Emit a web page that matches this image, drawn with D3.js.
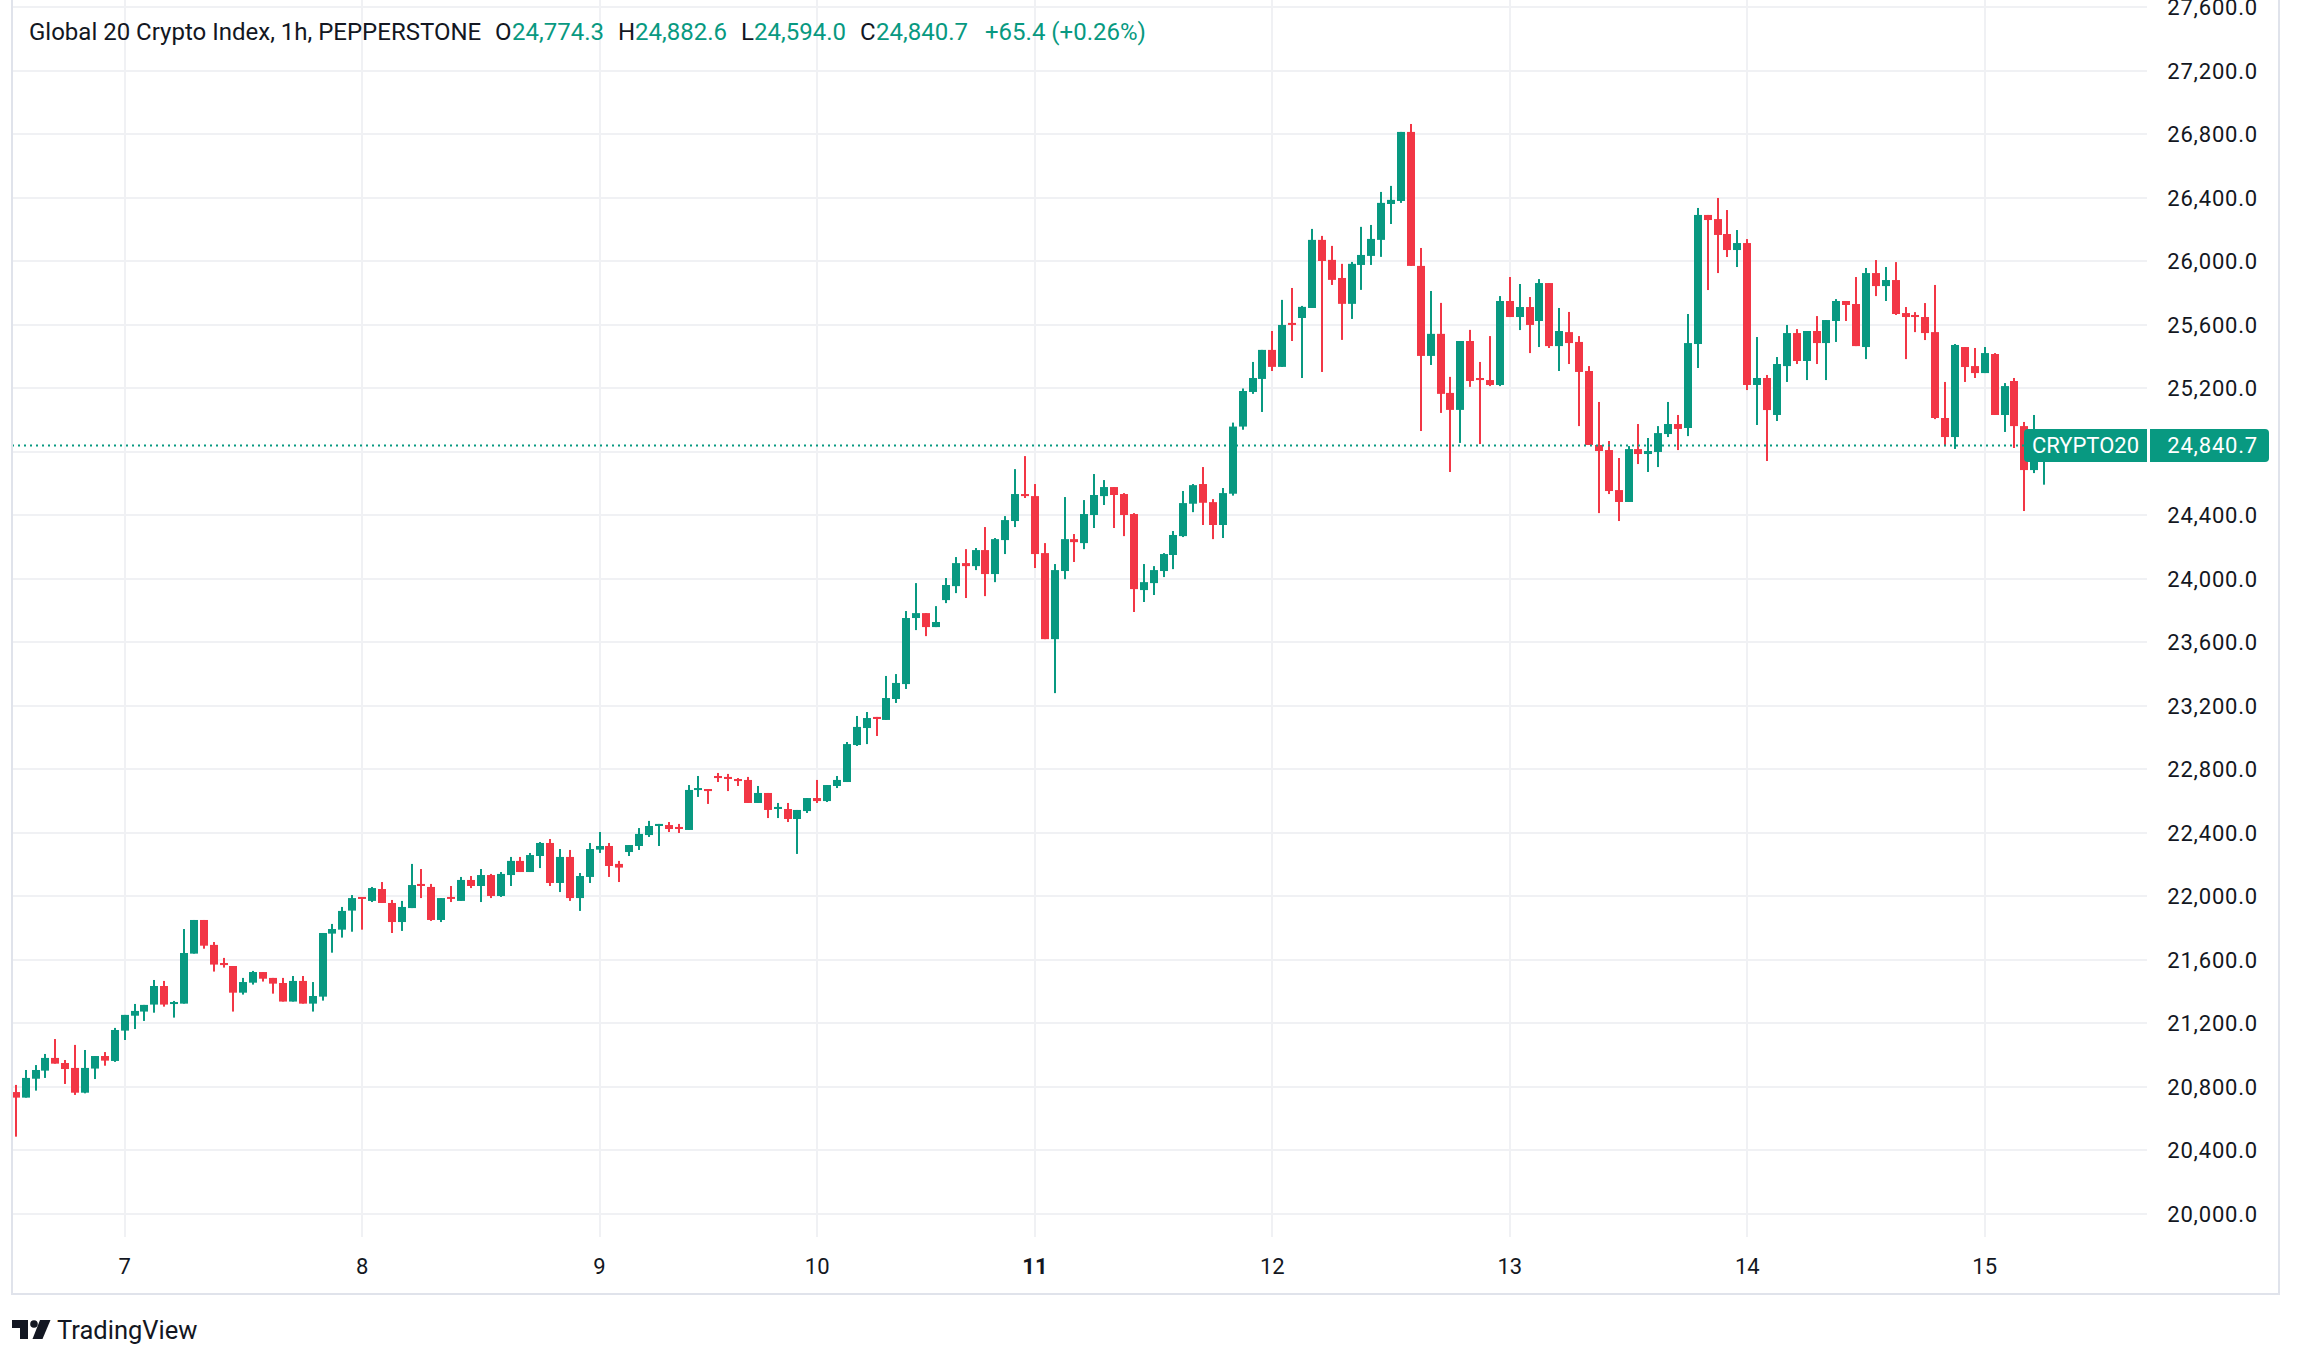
<!DOCTYPE html>
<html><head><meta charset="utf-8">
<script src="https://cdn.jsdelivr.net/npm/d3@7"></script>
<style>body{margin:0;background:#fff;} svg{display:block}</style>
</head><body>
<svg id="c" width="2300" height="1364"></svg>
<script>
// ---- DATA (hourly bars, Global 20 Crypto Index, PEPPERSTONE) ----
const openP = [20768,20733,20852,20903,20983,20951,20920,20764,20916,20995,20964,21155,21249,21275,21319,21436,21325,21325,21640,21852,
21695,21581,21562,21394,21457,21524,21487,21455,21338,21468,21325,21369,21766,21791,21911,21997,21972,22047,21959,21839,
21927,22079,22060,21852,21997,21972,22104,22066,22135,22003,22135,22224,22154,22255,22337,22085,22249,21990,22123,22295,
22318,22205,22280,22318,22387,22444,22450,22438,22419,22671,22677,22759,22753,22740,22734,22589,22652,22551,22551,22488,
22538,22620,22601,22696,22721,22954,23061,23131,23112,23244,23338,23754,23785,23697,23867,23955,24100,24081,24182,24031,
24245,24365,24535,24522,24163,23621,24050,24251,24226,24403,24522,24579,24535,24409,23930,23974,24050,24151,24270,24474,
24598,24484,24340,24537,24960,25178,25260,25443,25336,25613,25644,25707,26136,26010,25896,25733,25978,26035,26136,26362,
26381,26816,25972,25405,25544,25172,25065,25499,25266,25253,25222,25751,25650,25713,25625,25864,25467,25555,25493,25310,
24844,24812,24560,24485,24818,24787,24800,24913,24976,24951,25480,26293,26267,26173,26072,26116,25222,25266,25033,25341,
25549,25373,25562,25486,25625,25751,25732,25461,25927,25845,25883,25675,25663,25650,25555,25014,24894,25461,25341,25297,
25417,25033,25247,24963,24686,24774.3];
const highP = [20813,20907,20938,21008,21102,20970,21065,21033,20995,21020,21172,21254,21323,21317,21474,21468,21342,21795,21852,21852,
21713,21613,21562,21487,21531,21524,21487,21487,21499,21499,21461,21770,21827,21934,22009,21997,22060,22091,21978,21972,
22205,22173,22079,21990,22066,22123,22129,22173,22142,22154,22249,22249,22274,22343,22362,22299,22293,22148,22337,22406,
22337,22224,22324,22431,22476,22457,22469,22457,22702,22759,22677,22778,22772,22746,22753,22696,22652,22589,22589,22545,
22620,22734,22702,22759,22973,23137,23162,23131,23389,23401,23798,23974,23785,23829,24006,24138,24188,24195,24327,24258,
24396,24692,24774,24598,24226,24094,24516,24283,24497,24661,24623,24579,24541,24415,24094,24081,24163,24302,24554,24598,
24705,24503,24573,24985,25200,25367,25443,25562,25758,25833,25720,26205,26161,26098,25985,25997,26218,26230,26438,26476,
26816,26866,26085,25814,25739,25273,25499,25569,25367,25530,25782,25902,25858,25776,25889,25864,25707,25682,25530,25341,
25115,24869,24762,24837,24976,24888,24963,25115,25033,25669,26337,26293,26400,26324,26198,26141,25524,25285,25398,25600,
25574,25562,25656,25631,25763,25751,25902,25959,26009,25965,25996,25713,25681,25738,25852,25241,25480,25461,25455,25461,
25423,25234,25266,24989,25033,24882.6];
const lowP = [20487,20733,20777,20857,20947,20819,20750,20760,20850,20934,20958,21096,21165,21216,21268,21306,21237,21325,21640,21671,
21527,21552,21275,21382,21445,21464,21388,21338,21338,21325,21275,21344,21646,21741,21778,21791,21965,21959,21770,21783,
21927,21990,21846,21839,21965,21972,22053,21965,21990,21997,22066,22154,22154,22179,22066,22028,21972,21909,22085,22274,
22123,22091,22255,22293,22375,22318,22406,22400,22419,22627,22583,22721,22664,22696,22589,22589,22494,22494,22469,22268,
22526,22589,22595,22683,22721,22948,22960,23011,23112,23219,23307,23678,23640,23697,23848,23911,23880,24056,23892,23980,
24157,24327,24510,24069,23621,23281,23999,24107,24188,24321,24466,24321,24270,23792,23855,23899,24012,24062,24264,24421,
24340,24251,24258,24525,24940,25166,25052,25310,25336,25499,25266,25707,25304,25852,25506,25638,25821,25978,26029,26236,
26369,25972,24932,25348,25046,24674,24857,25210,24850,25215,25215,25650,25568,25423,25461,25455,25310,25354,24963,24844,
24415,24535,24365,24485,24724,24674,24705,24894,24812,24900,25329,25820,25927,26028,25965,25190,24970,24743,24995,25241,
25354,25253,25354,25253,25493,25625,25467,25385,25782,25751,25663,25385,25555,25505,25007,24837,24819,25241,25266,25297,
25033,24926,24825,24428,24667,24594.0];
const closeP = [20733,20857,20907,20983,20947,20913,20764,20920,20995,20966,21159,21254,21279,21317,21436,21319,21335,21644,21852,21690,
21571,21568,21394,21461,21524,21482,21451,21338,21468,21325,21373,21770,21795,21909,21990,21986,22053,21959,21839,21934,
22072,22066,21852,21990,21986,22104,22066,22135,22003,22142,22224,22154,22261,22337,22085,22249,21990,22129,22299,22318,
22192,22182,22324,22394,22444,22457,22425,22425,22671,22683,22664,22746,22740,22727,22589,22652,22545,22564,22488,22545,
22620,22601,22702,22734,22960,23068,23124,23118,23250,23345,23754,23785,23697,23729,23962,24100,24081,24182,24031,24251,
24371,24535,24522,24157,23621,24056,24251,24232,24409,24529,24579,24529,24403,23936,23980,24056,24157,24277,24478,24591,
24480,24340,24541,24960,25184,25266,25443,25336,25600,25600,25714,26136,26003,25884,25733,25985,26041,26142,26369,26388,
26816,25972,25405,25544,25166,25065,25499,25247,25253,25222,25751,25650,25713,25600,25864,25467,25562,25486,25304,24844,
24806,24554,24485,24818,24787,24806,24919,24976,24945,25486,26293,26261,26167,26072,26116,25222,25266,25064,25354,25549,
25373,25562,25486,25631,25751,25726,25467,25927,25845,25883,25669,25650,25650,25549,25014,24894,25474,25335,25297,25423,
25033,25215,24963,24686,24774.3,24840.7];
const dayTickIndex = [11,35,59,81,103,127,151,175,199];
const dayTickLabels = ["7","8","9","10","11","12","13","14","15"];
const priceTicks = d3.range(20000, 27601, 400);
const title = "Global 20 Crypto Index, 1h, PEPPERSTONE";
const symbol = "CRYPTO20";
const lastOHLC = {O:"24,774.3", H:"24,882.6", L:"24,594.0", C:"24,840.7"};
const changeText = "+65.4 (+0.26%)";

// ---- LAYOUT ----
const W = 2300, H = 1364;
const plot = {left: 12, right: 2147, top: 0, bottom: 1237};
const UP = "#089981", DOWN = "#F23645", TXT = "#131722", GRID = "#f0f1f4", BORDER = "#e0e3eb";
const FONT = "Roboto, 'Noto Sans', sans-serif";

const svg = d3.select("#c");
svg.append("rect").attr("width", W).attr("height", H).attr("fill", "#fff");

const x = d3.scaleLinear().domain([-0.384, 215.4]).range([plot.left, plot.right]);
const y = d3.scaleLinear().domain([19855, 27647]).range([plot.bottom, plot.top]);

// clip
svg.append("defs").append("clipPath").attr("id", "clip")
  .append("rect").attr("x", plot.left).attr("y", plot.top)
  .attr("width", plot.right - plot.left).attr("height", plot.bottom - plot.top);

const g = svg.append("g").attr("clip-path", "url(#clip)");

// grid
g.selectAll("line.hg").data(priceTicks).join("line")
  .attr("x1", plot.left).attr("x2", plot.right)
  .attr("y1", d => Math.round(y(d))).attr("y2", d => Math.round(y(d)))
  .attr("stroke", GRID).attr("stroke-width", 2);
g.selectAll("line.vg").data(dayTickIndex).join("line")
  .attr("x1", d => Math.round(x(d))).attr("x2", d => Math.round(x(d)))
  .attr("y1", plot.top).attr("y2", plot.bottom)
  .attr("stroke", GRID).attr("stroke-width", 2);

// candles
const bars = openP.map((o, i) => ({i, o, h: highP[i], l: lowP[i], c: closeP[i]}));
const bodyW = 8;
const cg = g.append("g");
const cand = cg.selectAll("g").data(bars).join("g");
cand.append("rect")
  .attr("x", d => Math.round(x(d.i)) - 1)
  .attr("width", 2)
  .attr("y", d => y(d.h))
  .attr("height", d => Math.max(1, y(d.l) - y(d.h)))
  .attr("fill", d => d.c >= d.o ? UP : DOWN);
cand.append("rect")
  .attr("x", d => Math.round(x(d.i)) - bodyW / 2)
  .attr("width", bodyW)
  .attr("y", d => y(Math.max(d.o, d.c)))
  .attr("height", d => Math.max(2, Math.abs(y(d.o) - y(d.c))))
  .attr("fill", d => d.c >= d.o ? UP : DOWN);

// last price dotted line
const lastPrice = closeP[closeP.length - 1];
const ly = y(lastPrice);
svg.append("line").attr("x1", plot.left).attr("x2", 2024)
  .attr("y1", ly).attr("y2", ly)
  .attr("stroke", UP).attr("stroke-width", 2).attr("stroke-dasharray", "2 4");

// borders
svg.append("line").attr("x1", 12).attr("x2", 12).attr("y1", 0).attr("y2", 1295).attr("stroke", BORDER).attr("stroke-width", 2);
svg.append("line").attr("x1", 2279).attr("x2", 2279).attr("y1", 0).attr("y2", 1295).attr("stroke", BORDER).attr("stroke-width", 2);
svg.append("line").attr("x1", 11).attr("x2", 2280).attr("y1", 1294).attr("y2", 1294).attr("stroke", BORDER).attr("stroke-width", 2);

// price axis
const yAxisG = svg.append("g");
yAxisG.selectAll("text").data(priceTicks.filter(d => Math.abs(y(d) - ly) > 24)).join("text")
  .attr("x", 2258).attr("y", d => y(d)).attr("dy", "0.36em")
  .attr("text-anchor", "end")
  .attr("font-family", FONT).attr("font-size", 22).attr("letter-spacing", 0.8)
  .attr("fill", TXT)
  .text(d => d3.format(",.1f")(d));

// time axis
svg.append("g").selectAll("text").data(dayTickIndex).join("text")
  .attr("x", d => x(d)).attr("y", 1266).attr("dy", "0.36em")
  .attr("text-anchor", "middle")
  .attr("font-family", FONT).attr("font-size", 22)
  .attr("font-weight", (d, k) => dayTickLabels[k] === "11" ? 700 : 400)
  .attr("fill", TXT)
  .text((d, k) => dayTickLabels[k]);

// last price labels
const lbl = svg.append("g");
lbl.append("rect").attr("x", 2024).attr("y", ly - 16.5).attr("width", 123).attr("height", 33).attr("rx", 4).attr("fill", UP);
lbl.append("rect").attr("x", 2140).attr("y", ly - 16.5).attr("width", 7).attr("height", 33).attr("fill", UP);
lbl.append("text").attr("x", 2085.5).attr("y", ly).attr("dy", "0.36em").attr("text-anchor", "middle")
  .attr("font-family", FONT).attr("font-size", 22).attr("fill", "#fff").text(symbol);
lbl.append("rect").attr("x", 2150).attr("y", ly - 16.5).attr("width", 119).attr("height", 33).attr("rx", 4).attr("fill", UP);
lbl.append("rect").attr("x", 2150).attr("y", ly - 16.5).attr("width", 7).attr("height", 33).attr("fill", UP);
lbl.append("text").attr("x", 2258).attr("y", ly).attr("dy", "0.36em").attr("text-anchor", "end")
  .attr("font-family", FONT).attr("font-size", 22).attr("letter-spacing", 0.8).attr("fill", "#fff")
  .text(d3.format(",.1f")(lastPrice));

// header legend
const hdr = svg.append("g").attr("font-family", FONT).attr("font-size", 24);
const hy = 39.5;
hdr.append("text").attr("x", 29).attr("y", hy).attr("fill", TXT).text(title);
const parts = [["O", 495, 512], ["H", 618, 635], ["L", 741, 754], ["C", 860, 876]];
parts.forEach(([k, xl, xv]) => {
  hdr.append("text").attr("x", xl).attr("y", hy).attr("fill", TXT).text(k);
  hdr.append("text").attr("x", xv).attr("y", hy).attr("fill", UP).text(lastOHLC[k]);
});
hdr.append("text").attr("x", 985).attr("y", hy).attr("fill", UP).text(changeText);

// TradingView logo
const logo = svg.append("g").attr("fill", TXT);
logo.append("path").attr("d", "M12,1320 H28 V1339 H20 V1328 H12 Z");
logo.append("circle").attr("cx", 34).attr("cy", 1324).attr("r", 3.8);
logo.append("path").attr("d", "M40,1320 H50.5 L42.5,1339 H32.5 Z");
svg.append("text").attr("x", 57).attr("y", 1338.5).attr("font-family", FONT).attr("font-size", 25.5)
  .attr("font-weight", 400).attr("fill", TXT).text("TradingView");
</script>
</body></html>
